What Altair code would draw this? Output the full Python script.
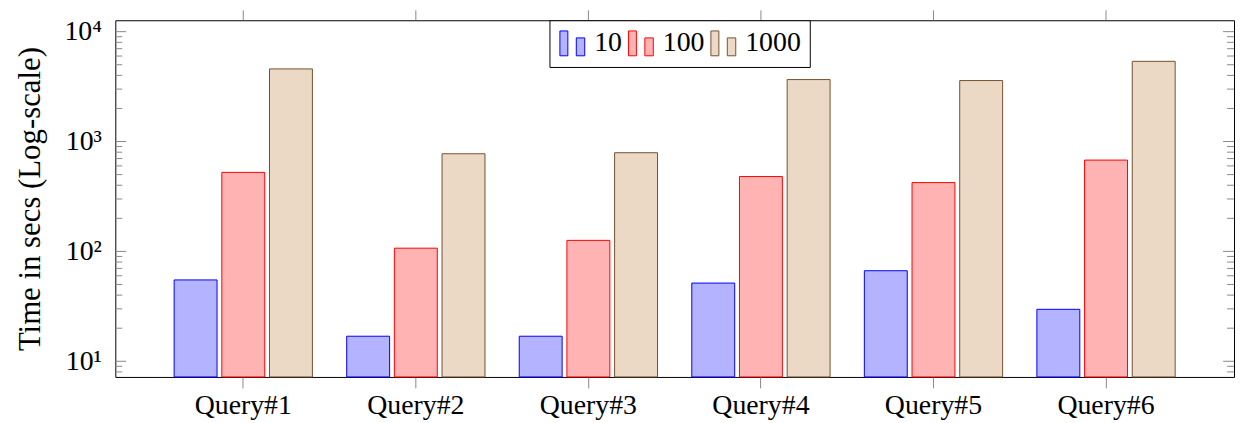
import altair as alt
import pandas as pd

queries = ["Query#1", "Query#2", "Query#3", "Query#4", "Query#5", "Query#6"]
series = ["10", "100", "1000"]
times_10 = [55, 16.9, 16.9, 51.5, 66.7, 29.7]
times_100 = [524, 107, 126, 480, 423, 678]
times_1000 = [4580, 774, 791, 3665, 3590, 5370]

fill_colors = ["#b3b3ff", "#ffb3b3", "#ebd9c6"]
stroke_colors = ["#0000ff", "#ff0000", "#74512f"]

y_major = [10, 100, 1000, 10000]
y_major_labels = ["10¹", "10²", "10³", "10⁴"]
y_minor = [8, 9, 20, 30, 40, 50, 60, 70, 80, 90,
           200, 300, 400, 500, 600, 700, 800, 900,
           2000, 3000, 4000, 5000, 6000, 7000, 8000, 9000]
y_domain = [7.2, 12700]

W, H = 1126, 359
FONT = "Liberation Serif"

rows = []
for s, vals in zip(series, [times_10, times_100, times_1000]):
    for q, v in zip(queries, vals):
        rows.append({"query": q, "series": s, "time": v})
df = pd.DataFrame(rows)

yscale = alt.Scale(type="log", domain=y_domain, nice=False)
xscale = alt.Scale(paddingInner=0.1986, paddingOuter=0.341)

label_expr = " : ".join(
    f"datum.value == {v} ? '{l}'" for v, l in zip(y_major, y_major_labels)
) + " : ''"

xaxis = alt.Axis(title=None, domain=False, tickSize=11, tickColor="#888",
                 labelFont=FONT, labelFontSize=28, labelColor="black",
                 labelAngle=0, labelPadding=4, grid=False)
yaxis = alt.Axis(values=y_major, labelExpr=label_expr,
                 title="Time in secs (Log-scale)", titleFont=FONT,
                 titleFontSize=31, titleFontWeight="normal", titleColor="black",
                 labelFont=FONT, labelFontSize=28, labelColor="black",
                 ticks=False, tickSize=0, domain=False, grid=False,
                 labelPadding=14, titlePadding=18)

leg = alt.Legend(
    title=None, orient="none", legendX=437, legendY=0, direction="horizontal",
    symbolType="M-1,-1H-0.36V1H-1Z M0.32,-0.44H1V1H0.32Z",
    symbolSize=625, symbolStrokeWidth=1, symbolOpacity=1,
    labelFont=FONT, labelFontSize=28, labelColor="black",
    labelOffset=8, columnPadding=4, padding=9,
    strokeColor="black", fillColor="white",
)

bars = alt.Chart(df).mark_bar(strokeWidth=1).encode(
    x=alt.X("query:N", sort=queries, scale=xscale, axis=xaxis),
    xOffset=alt.XOffset("series:N", sort=series,
                        scale=alt.Scale(paddingInner=0.1, paddingOuter=0)),
    y=alt.Y("time:Q", scale=yscale, axis=yaxis),
    y2=alt.datum(y_domain[0]),
    fill=alt.Fill("series:N", scale=alt.Scale(domain=series, range=fill_colors), legend=leg),
    stroke=alt.Stroke("series:N", scale=alt.Scale(domain=series, range=stroke_colors), legend=leg),
)

qdf = pd.DataFrame({"query": queries})
top_ticks = alt.Chart(qdf).mark_rule(color="#888", strokeWidth=1).encode(
    x=alt.X("query:N", sort=queries, scale=xscale, axis=xaxis),
    y=alt.value(-10), y2=alt.value(0),
)

major_df = pd.DataFrame({"v": y_major})
minor_df = pd.DataFrame({"v": y_minor})


def ticks(d, x0, x1):
    return alt.Chart(d).mark_rule(color="#888", strokeWidth=1).encode(
        y=alt.Y("v:Q", scale=yscale, axis=yaxis),
        x=alt.value(x0), x2=alt.value(x1),
    )


layers = [
    bars, top_ticks,
    ticks(major_df, 0, 11), ticks(major_df, W, W - 11),
    ticks(minor_df, 0, 7), ticks(minor_df, W, W - 7),
]

chart = alt.layer(*layers).properties(
    width=W, height=H,
    padding={"left": 6, "top": 0, "right": 0, "bottom": 0},
).configure(font=FONT).configure_view(stroke="black", strokeWidth=1)

chart.save("out.html", embed_options={"renderer": "svg", "actions": False})
